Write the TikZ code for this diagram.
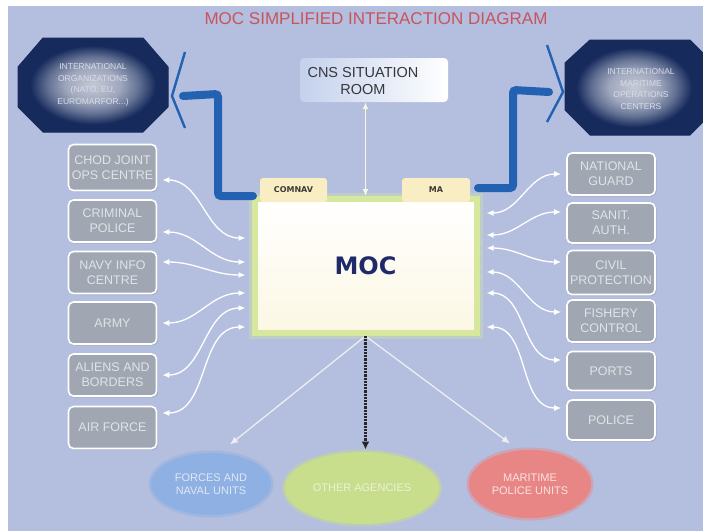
\documentclass[tikz,border=0pt]{standalone}
\usepackage{fontspec}
\setmainfont{Liberation Sans}
\newfontfamily\verd{DejaVu Sans}
\usetikzlibrary{arrows.meta,shapes.geometric,shadows}
\definecolor{bgc}{RGB}{180,190,222}
\definecolor{boxc}{RGB}{160,167,178}
\definecolor{boxt}{RGB}{224,227,231}
\definecolor{navyc}{RGB}{22,42,92}
\definecolor{octm}{RGB}{100,114,148}
\definecolor{octmm}{RGB}{160,168,190}
\definecolor{octc}{RGB}{196,201,213}
\definecolor{octt}{RGB}{215,220,230}
\definecolor{pipec}{RGB}{35,97,178}
\definecolor{titlec}{RGB}{200,84,92}
\definecolor{cnsl}{RGB}{196,209,236}
\definecolor{cnst}{RGB}{55,55,60}
\definecolor{glowc}{RGB}{214,232,158}
\definecolor{mocbot}{RGB}{252,247,228}
\definecolor{tabc}{RGB}{249,237,196}
\definecolor{tabt}{RGB}{60,58,55}
\definecolor{moct}{RGB}{32,42,105}
\definecolor{arrc}{RGB}{238,238,242}
\definecolor{cnsarr}{RGB}{248,248,225}
\definecolor{ellb}{RGB}{142,176,226}
\definecolor{ellbt}{RGB}{222,232,248}
\definecolor{ellg}{RGB}{200,222,140}
\definecolor{ellgt}{RGB}{236,242,212}
\definecolor{ellr}{RGB}{232,134,134}
\definecolor{ellrt}{RGB}{252,226,226}
\pgfdeclareradialshading{octshade}{\pgfpoint{0bp}{0bp}}{color(0bp)=(octc); color(9bp)=(octmm); color(15bp)=(octm); color(21bp)=(navyc); color(50bp)=(navyc)}
\begin{document}
\begin{tikzpicture}[x=1pt,y=-1pt,
  gbox/.style={draw=white, line width=1.6pt, fill=boxc, rounded corners=5pt,
    minimum width=88pt, minimum height=42pt, inner sep=1pt, align=center,
    text=boxt, font=\fontsize{12.5}{15}\selectfont,
    drop shadow={opacity=0.25, shadow xshift=1.5pt, shadow yshift=-1.5pt}},
  conn/.style={draw=white, line width=1.3pt,
    arrows={Latex[length=7pt,width=6pt]-Latex[length=7pt,width=6pt]}},
  warrow/.style={draw=arrc, line width=1.3pt, arrows={-Latex[length=8pt,width=7pt]}},
  octtext/.style={align=center, text=octt, font=\fontsize{8.5}{11.5}\selectfont},
  pipe/.style={draw=pipec, line width=8pt, rounded corners=3pt, line cap=round},
  chev/.style={draw=pipec, line width=2.4pt, line join=miter},
  tab/.style={fill=tabc, rounded corners=3pt, minimum height=24pt, inner sep=1pt,
    font=\verd\bfseries\fontsize{8}{9}\selectfont, text=tabt},
  ell/.style={ellipse, inner sep=0pt, align=center, line width=5pt, draw opacity=0.45,
    font=\fontsize{11}{13}\selectfont}
]
\useasboundingbox (0,0) rectangle (703,531);
\fill[white] (0,0) rectangle (703,531);
\fill[bgc] (8,6) rectangle (703,531);

% title
\node[text=titlec, font=\fontsize{17}{20}\selectfont] (title) at (376,19) {MOC SIMPLIFIED INTERACTION DIAGRAM};

% octagons
\path[shade, shading=octshade, draw=navyc, line width=1pt]
  (43,38) -- (143,38) -- (168,67) -- (168,107) -- (143,132) -- (43,132) -- (18,107) -- (18,67) -- cycle;
\node[octtext] (io) at (93,85) {INTERNATIONAL\\ORGANIZATIONS\\(NATO, EU,\\EUROMARFOR...)};
\path[shade, shading=octshade, draw=navyc, line width=1pt]
  (590,40) -- (690,40) -- (703,53) -- (703,122) -- (690,135) -- (590,135) -- (565,110) -- (565,63) -- cycle;
\node[octtext] (imoc) at (641,89) {INTERNATIONAL\\MARITIME\\OPERATIONS\\CENTERS};

% MOC
\node[draw=glowc, line width=12pt, draw opacity=0.35, minimum width=222pt, minimum height=134pt] (mocglow) at (365.5,266) {};
\node[draw=glowc, line width=6pt, top color=white, bottom color=mocbot,
  minimum width=222pt, minimum height=134pt,
  font=\verd\bfseries\fontsize{24}{28}\selectfont, text=moct] (moc) at (365.5,266) {MOC};

% pipes to international centres
\coordinate (ioTip) at (172,96);
\coordinate (imTip) at (563,92);
\draw[pipe] (253,196) -| (218,94) -- ([xshift=11pt]ioTip);
\draw[chev] (185,52) -- (ioTip) -- (185,128);
\draw[pipe] (478,188) -| (513,90) -- ([xshift=-14pt]imTip);
\draw[chev] (547,45) -- (imTip) -- (547,122);

% tabs
\node[tab, minimum width=67pt] (comnav) at (293.5,190) {COMNAV};
\node[tab, minimum width=68pt] (ma) at (436,190) {MA};

% CNS situation room
\node[left color=cnsl, right color=white, rounded corners=4pt,
  minimum width=148pt, minimum height=44pt] (cns) at (374,80) {};
\node[align=center, text=cnst, font=\fontsize{14.5}{17}\selectfont] (cnstext) at (363,81) {CNS SITUATION\\ROOM};
\draw[draw=cnsarr, line width=1.4pt, arrows={Latex[length=7pt,width=6pt]-Latex[length=7pt,width=6pt]}]
  (moc.north) -- (moc.north |- cns.south);

% left boxes
\node[gbox, minimum height=46pt] (b1) at (112.5,167.5) {CHOD JOINT\\OPS CENTRE};
\node[gbox] (b2) at (112.5,221) {CRIMINAL\\POLICE};
\node[gbox] (b3) at (112.5,272.5) {NAVY INFO\\CENTRE};
\node[gbox] (b4) at (112.5,323) {ARMY};
\node[gbox] (b5) at (112.5,375) {ALIENS AND\\BORDERS};
\node[gbox] (b6) at (112.5,427.5) {AIR FORCE};

% right boxes
\node[gbox] (r1) at (611,174) {NATIONAL\\GUARD};
\node[gbox, minimum height=40pt] (r2) at (611,223) {SANIT.\\AUTH.};
\node[gbox, minimum height=44pt] (r3) at (611,272.5) {CIVIL\\PROTECTION};
\node[gbox] (r4) at (611,321) {FISHERY\\CONTROL};
\node[gbox, minimum height=39pt] (r5) at (611,371) {PORTS};
\node[gbox, minimum height=40pt] (r6) at (611,420) {POLICE};

% left connectors
\draw[conn] ([xshift=5pt,yshift=-12.5pt]b1.east) to[out=0,in=180] ([xshift=-6pt,yshift=28pt]moc.west);
\draw[conn] ([xshift=5pt,yshift=-11pt]b2.east) to[out=0,in=180] ([xshift=-6pt,yshift=4pt]moc.west);
\draw[conn] ([xshift=5pt,yshift=10.5pt]b3.east) to[out=0,in=180] ([xshift=-6pt,yshift=-9pt]moc.west);
\draw[conn] ([xshift=5pt]b4.east) to[out=0,in=180] ([xshift=-6pt,yshift=-27pt]moc.west);
\draw[conn] ([xshift=5pt]b5.east) to[out=0,in=180] ([xshift=-6pt,yshift=-42pt]moc.west);
\draw[conn] ([xshift=5pt,yshift=14.5pt]b6.east) to[out=0,in=180] ([xshift=-6pt,yshift=-61pt]moc.west);

% right connectors
\draw[conn] ([xshift=7pt,yshift=53pt]moc.east) to[out=0,in=180] ([xshift=-5pt]r1.west);
\draw[conn] ([xshift=7pt,yshift=31pt]moc.east) to[out=0,in=180] ([xshift=-5pt,yshift=11pt]r2.west);
\draw[conn] ([xshift=7pt,yshift=18pt]moc.east) to[out=0,in=180] ([xshift=-5pt,yshift=10.5pt]r3.west);
\draw[conn] ([xshift=7pt,yshift=-6pt]moc.east) to[out=0,in=180] ([xshift=-5pt,yshift=9pt]r4.west);
\draw[conn] ([xshift=7pt,yshift=-27pt]moc.east) to[out=0,in=180] ([xshift=-5pt,yshift=11pt]r5.west);
\draw[conn] ([xshift=7pt,yshift=-61pt]moc.east) to[out=0,in=180] ([xshift=-5pt,yshift=12pt]r6.west);

% bottom ellipses
\node[ell, fill=ellb, draw=ellb, text=ellbt, minimum width=120pt, minimum height=62pt] (forces) at (211,484) {FORCES AND\\NAVAL UNITS};
\node[ell, fill=ellg, draw=ellg, text=ellgt, minimum width=155pt, minimum height=72pt] (other) at (362,488) {OTHER AGENCIES};
\node[ell, fill=ellr, draw=ellr, text=ellrt, minimum width=122pt, minimum height=68pt] (mpu) at (530,484) {MARITIME\\POLICE UNITS};

% bottom arrows
\draw[warrow] (moc.south) -- ([xshift=19pt,yshift=6pt]forces.north);
\draw[warrow] (moc.south) -- ([xshift=-20pt,yshift=4pt]mpu.north);
\draw[draw=black!85, line width=2.2pt, densely dotted, arrows={-Latex[length=8pt,width=8pt]}]
  (moc.south) -- (moc.south |- other.north);
\end{tikzpicture}
\end{document}
